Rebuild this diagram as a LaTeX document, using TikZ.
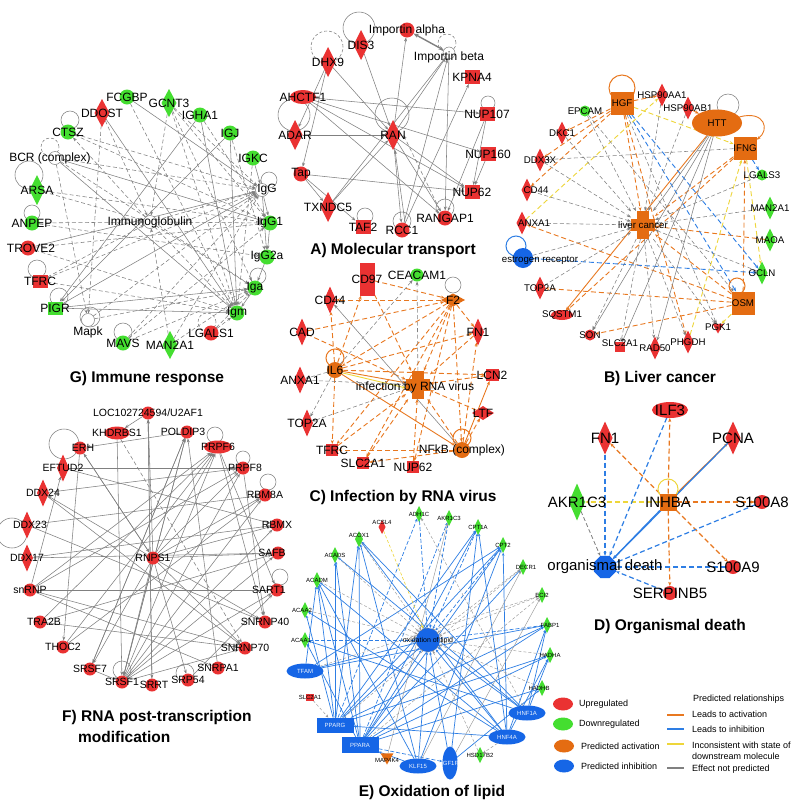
\documentclass[tikz,border=0pt]{standalone}
\usepackage{fontspec}
\setmainfont{Liberation Sans}
\usetikzlibrary{arrows.meta,shapes.geometric}
\definecolor{cR}{RGB}{234,50,50}
\definecolor{cG}{RGB}{68,222,48}
\definecolor{cO}{RGB}{228,108,18}
\definecolor{cB}{RGB}{22,102,230}
\definecolor{eO}{RGB}{232,120,32}
\definecolor{eB}{RGB}{46,126,228}
\definecolor{eY}{RGB}{238,214,58}
\definecolor{eG}{RGB}{128,128,128}
\pgfdeclarelayer{bg}
\pgfsetlayers{bg,main}
\tikzset{
 base/.style={inner sep=0pt,outer sep=0pt},
 fR/.style={fill=cR}, fG/.style={fill=cG}, fO/.style={fill=cO}, fB/.style={fill=cB},
 fW/.style={fill=white,draw=eG,line width=0.5pt},
 ci/.style={base,circle,minimum size=#1},
 di/.style 2 args={base,diamond,minimum width=#1,minimum height=#2},
 sq/.style 2 args={base,rectangle,minimum width=#1,minimum height=#2},
 el/.style 2 args={base,ellipse,minimum width=#1,minimum height=#2},
 triD/.style={base,regular polygon,regular polygon sides=3,shape border rotate=180,minimum size=#1},
 oct/.style={base,regular polygon,regular polygon sides=8,minimum size=#1},
 plusN/.style={base,rectangle,minimum width=24,minimum height=28,path picture={
   \fill[cO] ([xshift=-6pt,yshift=-14pt]path picture bounding box.center) rectangle ([xshift=6pt,yshift=14pt]path picture bounding box.center);
   \fill[cO] ([xshift=-12pt,yshift=-6pt]path picture bounding box.center) rectangle ([xshift=12pt,yshift=6pt]path picture bounding box.center);}},
 lG/.style={inner sep=0pt,font=\fontsize{12}{12}\selectfont},
 lB/.style={inner sep=0pt,font=\fontsize{9.7}{10}\selectfont},
 lF/.style={inner sep=0pt,font=\fontsize{10.5}{11}\selectfont},
 lD/.style={inner sep=0pt,font=\fontsize{15}{15}\selectfont},
 lE/.style={inner sep=0pt,font=\fontsize{6}{6}\selectfont},
 lEw/.style={lE,text=white!92!cB},
 lOL/.style={inner sep=0pt,font=\fontsize{7}{7}\selectfont},
 lL/.style={inner sep=0pt,font=\fontsize{9}{11}\selectfont,align=left},
 tt/.style={inner sep=0pt,font=\bfseries\fontsize{15.5}{17}\selectfont},
 ar/.style={-{Stealth[length=4pt,width=3pt]}},
 gs/.style={draw=eG,line width=0.55pt,ar},
 gd/.style={gs,dash pattern=on 4pt off 2.5pt},
 os/.style={draw=eO,line width=0.9pt,ar},
 od/.style={os,dash pattern=on 5pt off 3pt},
 bs/.style={draw=eB,line width=0.9pt,ar},
 bd/.style={bs,dash pattern=on 5pt off 3pt},
 ys/.style={draw=eY,line width=0.9pt,ar},
 yd/.style={ys,dash pattern=on 5pt off 3pt},
 bE/.style={draw=eB,line width=0.7pt,-{Stealth[length=3pt,width=2.5pt]}},
 bEd/.style={bE,dash pattern=on 4pt off 2pt},
 gE/.style={draw=eG!80,line width=0.45pt,-{Stealth[length=3pt,width=2.5pt]}},
 gEd/.style={gE,dash pattern=on 3pt off 2pt},
 gl/.style={draw=eG,line width=0.55pt},
 gld/.style={gl,dash pattern=on 3pt off 2pt},
 ol/.style={draw=eO,line width=1pt},
 yl/.style={draw=eY,line width=1pt},
 bl/.style={draw=eB,line width=1pt},
}
\newcommand\nn[5]{\node[#1] (#2) at (#3) {}; \node[#4] (#2l) at (#3) {#5};}
\newcommand\lp[5]{\draw[#1] ([xshift=#3pt,yshift=#4pt]#2.center) circle[radius=#5pt];}
\begin{document}
\begin{tikzpicture}[x=1pt,y=-1pt]
\begin{pgfonlayer}{bg}
\fill[white] (0,0) rectangle (800,809);
\end{pgfonlayer}
\useasboundingbox (0,0) rectangle (800,809);

% ---------------- Panel G ----------------
\nn{ci=15,fG}{G1}{127,97}{lG}{FCGBP}
\nn{di={15}{28},fR}{G2}{102,113}{lG}{DDOST}
\nn{di={15}{28},fG}{G3}{169,103}{lG}{GCNT3}
\nn{ci=15,fG}{G4}{200,115}{lG}{IGHA1}
\nn{ci=15,fG}{G5}{68,132}{lG}{CTSZ}
\nn{ci=15,fG}{G6}{230,133}{lG}{IGJ}
\nn{ci=13,fW}{G7}{55,158}{lG,xshift=-5pt}{BCR (complex)}
\nn{ci=15,fG}{G8}{253,158}{lG}{IGKC}
\nn{di={15}{30},fG}{G9}{37,190}{lG}{ARSA}
\nn{ci=13,fW}{G10}{262,190}{lG,xshift=5pt}{IgG}
\nn{ci=15,fG}{G11}{32,223}{lG}{ANPEP}
\nn{ci=13,fW}{G12}{150,222}{lG}{Immunoglobulin}
\nn{ci=15,fG}{G13}{270,223}{lG}{IgG1}
\nn{ci=15,fR}{G14}{28,248}{lG,xshift=3pt}{TROVE2}
\nn{ci=15,fG}{G15}{267,257}{lG}{IgG2a}
\nn{sq={15}{13},fR}{G16}{40,281}{lG}{TFRC}
\nn{ci=15,fG}{G17}{255,288}{lG}{Iga}
\nn{sq={15}{13},fG}{G18}{55,308}{lG}{PIGR}
\nn{ci=15,fG}{G19}{237,313}{lG}{Igm}
\nn{ci=13,fW}{G20}{88,320}{lG,yshift=-12pt}{Mapk}
\nn{ci=15,fG}{G21}{123,343}{lG}{MAVS}
\nn{di={15}{28},fG}{G22}{170,345}{lG}{MAN2A1}
\nn{ci=15,fR}{G23}{211,333}{lG}{LGALS1}
\node[tt] (T7) at (147,378) {G) Immune response};

% ---------------- Panel A ----------------
\nn{ci=15,fR}{A1}{407,30}{lG}{Importin alpha}
\nn{di={15}{30},fR}{A2}{361,45}{lG}{DIS3}
\nn{ci=12,fW}{A3}{449,53}{lG,yshift=-4pt}{Importin beta}
\nn{di={15}{30},fR}{A4}{328,62}{lG}{DHX9}
\nn{sq={15}{14},fR}{A5}{472,77}{lG}{KPNA4}
\nn{el={26}{14},fR}{A6}{303,97}{lG}{AHCTF1}
\nn{sq={15}{14},fR}{A7}{487,114}{lG}{NUP107}
\nn{di={15}{30},fR}{A8}{295,135}{lG}{ADAR}
\nn{di={15}{30},fR}{A9}{393,135}{lG}{RAN}
\nn{sq={15}{14},fR}{A10}{488,154}{lG}{NUP160}
\nn{ci=15,fR}{A11}{301,174}{lG}{Tap}
\nn{sq={15}{14},fR}{A12}{472,192}{lG}{NUP62}
\nn{di={15}{30},fR}{A13}{328,207}{lG}{TXNDC5}
\nn{ci=15,fR}{A14}{445,218}{lG}{RANGAP1}
\nn{sq={15}{14},fR}{A15}{363,227}{lG}{TAF2}
\nn{ci=15,fR}{A16}{402,230}{lG}{RCC1}
\node[tt] (T1) at (393,250) {A) Molecular transport};

% ---------------- Panel B ----------------
\nn{sq={23}{23},fO}{B1}{622,103}{lB}{HGF}
\nn{di={11}{23},fR}{B2}{662,95}{lB}{HSP90AA1}
\nn{ci=11,fG}{B3}{585,111}{lB}{EPCAM}
\nn{di={11}{23},fR}{B4}{688,108}{lB}{HSP90AB1}
\nn{el={50}{27},fO}{B5}{717,123}{lB}{HTT}
\nn{di={11}{23},fR}{B6}{562,133}{lB}{DKC1}
\nn{sq={23}{23},fO}{B7}{745,148}{lB}{IFNG}
\nn{di={11}{23},fR}{B8}{540,160}{lB}{DDX3X}
\nn{ci=11,fG}{B9}{762,175}{lB}{LGALS3}
\nn{di={11}{23},fR}{B10}{527,190}{lB,xshift=9pt}{CD44}
\nn{di={11}{23},fG}{B11}{770,208}{lB}{MAN2A1}
\nn{plusN}{B12}{643,225}{lB}{liver cancer}
\nn{di={11}{23},fR}{B13}{522,223}{lB,xshift=12pt}{ANXA1}
\nn{di={11}{23},fG}{B14}{770,240}{lB}{MAOA}
\nn{ci=20,fB}{B15}{523,258}{lB,xshift=17pt,yshift=-2pt}{estrogen receptor}
\nn{di={11}{23},fG}{B16}{762,273}{lB}{OCLN}
\nn{di={11}{23},fR}{B17}{540,288}{lB}{TOP2A}
\nn{sq={23}{23},fO}{B18}{743,303}{lB}{OSM}
\nn{el={22}{10},fR}{B19}{562,315}{lB}{SQSTM1}
\nn{triD=13,fR}{B20}{718,327}{lB}{PGK1}
\nn{ci=11,fR}{B21}{590,335}{lB}{SON}
\nn{sq={10}{10},fR}{B22}{620,347}{lB,yshift=4pt}{SLC2A1}
\nn{di={11}{23},fR}{B23}{655,348}{lB}{RAD50}
\nn{di={11}{23},fR}{B24}{688,342}{lB}{PHGDH}
\node[tt] (T2) at (660,378) {B) Liver cancer};

% ---------------- Panel C ----------------
\nn{sq={15}{33},fR}{C1}{367,279}{lG}{CD97}
\nn{ci=13,fG}{C2}{417,275}{lG}{CEACAM1}
\nn{di={24}{13},fO}{C3}{453,300}{lG}{F2}
\nn{di={12}{27},fR}{C4}{330,300}{lG}{CD44}
\nn{di={12}{27},fR}{C5}{302,332}{lG}{CAD}
\nn{di={12}{27},fR}{C6}{478,332}{lG}{FN1}
\nn{ci=16,fO}{C7}{335,370}{lG}{IL6}
\nn{sq={13}{12},fR}{C8}{492,375}{lG}{LCN2}
\nn{di={12}{27},fR}{C9}{300,380}{lG}{ANXA1}
\nn{plusN}{C10}{418,385}{lG,xshift=-3pt,yshift=-2pt}{infection by RNA virus}
\nn{di={22}{14},fR}{C11}{483,413}{lG}{LTF}
\nn{di={12}{27},fR}{C12}{307,423}{lG}{TOP2A}
\nn{sq={12}{12},fR}{C13}{332,450}{lG}{TFRC}
\nn{ci=16,fO}{C14}{462,450}{lG}{NFkB (complex)}
\nn{sq={12}{12},fR}{C15}{363,463}{lG}{SLC2A1}
\nn{sq={12}{12},fR}{C16}{413,467}{lG}{NUP62}
\node[tt] (T3) at (403,497) {C) Infection by RNA virus};

% ---------------- Panel F ----------------
\nn{ci=13,fR}{F1}{148,413}{lF}{LOC102724594/U2AF1}
\nn{el={25}{13},fR}{F2}{117,433}{lF}{KHDRBS1}
\nn{ci=13,fR}{F3}{187,432}{lF,xshift=-4pt}{POLDIP3}
\nn{ci=13,fR}{F4}{80,448}{lF,xshift=3pt}{ERH}
\nn{el={28}{13},fR}{F5}{218,447}{lF}{PRPF6}
\nn{di={12}{27},fR}{F6}{63,468}{lF}{EFTUD2}
\nn{ci=13,fR}{F7}{243,468}{lF,xshift=2pt}{PRPF8}
\nn{di={12}{27},fR}{F8}{43,493}{lF}{DDX24}
\nn{ci=13,fR}{F9}{265,495}{lF}{RBM8A}
\nn{di={12}{27},fR}{F10}{27,525}{lF,xshift=3pt}{DDX23}
\nn{ci=13,fR}{F11}{277,525}{lF}{RBMX}
\nn{di={12}{27},fR}{F12}{27,558}{lF}{DDX17}
\nn{ci=13,fR}{F13}{153,558}{lF}{RNPS1}
\nn{ci=13,fR}{F14}{278,553}{lF,xshift=-6pt}{SAFB}
\nn{ci=13,fR}{F15}{30,590}{lF}{snRNP}
\nn{ci=13,fR}{F16}{277,590}{lF,xshift=-8pt}{SART1}
\nn{ci=13,fR}{F17}{40,622}{lF,xshift=4pt}{TRA2B}
\nn{ci=13,fR}{F18}{265,622}{lF}{SNRNP40}
\nn{ci=13,fR}{F19}{63,647}{lF}{THOC2}
\nn{ci=13,fR}{F20}{245,648}{lF}{SNRNP70}
\nn{ci=13,fR}{F21}{90,669}{lF}{SRSF7}
\nn{ci=13,fR}{F22}{218,668}{lF}{SNRPA1}
\nn{ci=13,fR}{F23}{122,682}{lF}{SRSF1}
\nn{ci=13,fR}{F24}{152,685}{lF,xshift=2pt}{SRRT}
\nn{ci=13,fR}{F25}{188,680}{lF}{SRP54}
\node[tt,anchor=west] (T6) at (62,717) {F) RNA post-transcription};
\node[tt,anchor=west] (T6b) at (78,737) {modification};

% ---------------- Panel D ----------------
\nn{el={36}{16},fR}{D1}{670,410}{lD}{ILF3}
\nn{di={15}{33},fR}{D2}{605,438}{lD}{FN1}
\nn{di={15}{33},fR}{D3}{733,438}{lD}{PCNA}
\nn{di={16}{37},fG}{D4}{577,502}{lD}{AKR1C3}
\nn{sq={17}{17},fO}{D5}{668,502}{lD}{INHBA}
\nn{ci=14,fR}{D6}{762,502}{lD}{S100A8}
\nn{oct=24,fB}{D7}{605,567}{lD}{organismal death}
\nn{ci=14,fR}{D8}{733,567}{lD}{S100A9}
\nn{ci=14,fR}{D9}{670,593}{lD}{SERPINB5}
\node[tt] (T4) at (670,627) {D) Organismal death};

% ---------------- Panel E ----------------
\nn{di={7}{14},fR}{E1}{382,527}{lE,yshift=5pt}{ACSL4}
\nn{di={8}{16},fG}{E2}{419,514}{lE}{ADH1C}
\nn{di={8}{16},fG}{E3}{449,518}{lE}{AKR1C3}
\nn{di={8}{16},fG}{E4}{478,527}{lE}{CPT1A}
\nn{di={8}{16},fG}{E5}{359,539}{lE,yshift=4pt}{ACOX1}
\nn{di={8}{16},fG}{E6}{335,555}{lE}{ACADS}
\nn{di={8}{16},fG}{E7}{503,545}{lE}{CPT2}
\nn{di={8}{16},fG}{E8}{523,567}{lE,xshift=3pt}{DECR1}
\nn{di={8}{16},fG}{E9}{317,580}{lE}{ACADM}
\nn{di={8}{16},fG}{E10}{542,595}{lE}{ECI2}
\nn{di={8}{16},fG}{E11}{305,610}{lE,xshift=-3pt}{ACAA2}
\nn{di={8}{16},fG}{E12}{547,625}{lE,xshift=3pt}{FABP1}
\node[ci=24,fB,draw=eG,dashed,line width=0.5pt] (E13) at (428,640) {};
\node[lOL] (E13l) at (428,641) {oxidation of lipid};
\nn{di={8}{16},fG}{E14}{305,640}{lE,xshift=-4pt}{ACAA1}
\nn{di={8}{16},fG}{E15}{550,655}{lE}{HADHA}
\nn{el={37}{15},fB}{E16}{305,671}{lEw}{TFAM}
\nn{di={8}{16},fG}{E17}{542,688}{lE,xshift=-3pt}{HADHB}
\nn{sq={8}{7},fR}{E18}{310,697}{lE}{SLC2A1}
\nn{el={37}{15},fB}{E19}{527,713}{lEw}{HNF1A}
\nn{sq={37}{15},fB}{E20}{335,725}{lEw}{PPARG}
\nn{el={37}{15},fB}{E21}{507,737}{lEw}{HNF4A}
\nn{sq={37}{16},fB}{E22}{360,745}{lEw}{PPARA}
\nn{di={8}{16},fG}{E23}{480,755}{lE}{HSD17B2}
\nn{triD=15,fO}{E24}{387,757}{lE,yshift=-3pt}{MAP4K4}
\nn{el={37}{15},fB}{E25}{418,766}{lEw}{KLF15}
\nn{el={15}{33},fB}{E26}{450,763}{lEw}{IGF1R}
\node[tt] (T5) at (432,792) {E) Oxidation of lipid};

% ---------------- Legend ----------------
\node[el={20}{13},fR] (L1) at (563,704) {};
\node[lL,anchor=west] (L1t) at (579,704) {Upregulated};
\node[el={20}{13},fG] (L2) at (563,724) {};
\node[lL,anchor=west] (L2t) at (579,724) {Downregulated};
\node[el={20}{13},fO] (L3) at (564,746) {};
\node[lL,anchor=west] (L3t) at (581,746) {Predicted activation};
\node[el={20}{13},fB] (L4) at (564,766) {};
\node[lL,anchor=west] (L4t) at (581,766) {Predicted inhibition};
\node[lL,anchor=west] (L5) at (693,699) {Predicted relationships};
\coordinate (La1) at (667,715); \coordinate (Lb1) at (684,715);
\coordinate (La2) at (667,729); \coordinate (Lb2) at (684,729);
\coordinate (La3) at (667,744); \coordinate (Lb3) at (684,744);
\coordinate (La4) at (667,768); \coordinate (Lb4) at (684,768);
\draw[eO,line width=1.8pt] (La1) -- (Lb1);
\draw[eB,line width=1.8pt] (La2) -- (Lb2);
\draw[eY,line width=1.8pt] (La3) -- (Lb3);
\draw[eG,line width=1.8pt] (La4) -- (Lb4);
\node[lL,anchor=west] (L6) at (692,714) {Leads to activation};
\node[lL,anchor=west] (L7) at (692,729) {Leads to inhibition};
\node[lL,anchor=west] (L8) at (692,750.5) {Inconsistent with state of\\downstream molecule};
\node[lL,anchor=west] (L9) at (692,769) {Effect not predicted};

% ================= EDGES =================
\begin{pgfonlayer}{bg}
% Panel G
\foreach \a/\b in {G1/G10,G2/G19,G4/G18,G6/G18,G4/G19,G7/G13,G7/G19,G14/G10,G18/G17,G18/G19,G10/G13,G10/G15,G8/G10,G13/G15,G15/G17,G17/G19,G6/G19,G18/G10}
  \draw[gs] (\a) -- (\b);
\foreach \a/\b in {G3/G12,G3/G19,G3/G17,G3/G10,G3/G13,G2/G20,G7/G20,G12/G5,G9/G12,G11/G12,G12/G10,G16/G10,G21/G10,G21/G17,G21/G13,G20/G10,G20/G17,G23/G17,G23/G19,G22/G10,G12/G19,G12/G13,G5/G10,G7/G10,G14/G13,G1/G19,G4/G13,G8/G19,G6/G15,G16/G12,G22/G12,G12/G17,G7/G17,G11/G15,G9/G13,G14/G19,G16/G19,G22/G17,G5/G13,G2/G12}
  \draw[gd] (\a) -- (\b);
\lp{gl}{G5}{2}{12}{9}
\lp{gld}{G7}{-5}{11}{9}
\lp{gl}{G9}{-8}{15}{14}
\lp{gl}{G11}{0}{10}{8}
\lp{gl}{G16}{-3}{12}{9}
\lp{gl}{G18}{4}{11}{9}
\lp{gl}{G20}{2}{3}{10}
\lp{gl}{G21}{0}{11}{9}
\lp{gld}{G23}{-4}{11}{9}
\lp{gl}{G10}{7}{10}{8}
\lp{gl}{G17}{3}{12}{8}

% Panel A
\foreach \a/\b in {A2/A9,A4/A9,A4/A11,A4/A8,A6/A7,A6/A10,A6/A12,A6/A14,A8/A9,A11/A12,A11/A15,A13/A9,A9/A1,A9/A3,A13/A3,A16/A5,A9/A16,A9/A14,A9/A12,A3/A14,A7/A12,A10/A12,A7/A14,A11/A13,A16/A3}
  \draw[gs] (\a) -- (\b);
\draw[gs] ([xshift=3pt]A16.north) -- ([xshift=2pt]A9.south);
\draw[gd] ([yshift=3pt]A14.north west) -- ([xshift=3pt]A9.east);
\draw[draw=eG,line width=1.4pt,{Stealth[length=5pt,width=4pt]}-{Stealth[length=5pt,width=4pt]}] (A1) -- (A3);
\lp{gl}{A2}{-2}{17}{16}
\lp{gld}{A4}{-1}{15}{16}
\lp{gld}{A3}{-2}{10}{9}
\lp{gl}{A8}{-1}{20}{16}
\lp{gl}{A9}{-1}{20}{17}
\lp{gl}{A7}{1}{11}{7}
\lp{gl}{A14}{0}{10}{9}
\lp{gl}{A15}{2}{11}{8}
\lp{gl}{A16}{0}{9}{9}

% Panel B
\foreach \a/\b in {B1/B6,B1/B8,B1/B10,B1/B12,B1/B2,B4/B5,B18/B17,B18/B13,B18/B12,B18/B21,B18/B7,B7/B12,B14/B12,B7/B19,B1/B24}
  \draw[od] (\a) -- (\b);
\draw[os] (B5) -- (B19);
\draw[os] (B5) .. controls (765,110) and (770,130) .. (B7);
\foreach \a/\b in {B1/B18,B1/B16,B15/B16,B7/B9}
  \draw[bd] (\a) -- (\b);
\foreach \a/\b in {B1/B7,B13/B2,B24/B7,B7/B16,B18/B20}
  \draw[yd] (\a) -- (\b);
\foreach \a/\b in {B3/B12,B6/B12,B8/B12,B10/B12,B13/B12,B15/B12,B12/B22,B12/B23,B12/B24,B12/B20,B11/B12,B9/B12,B7/B8,B1/B20,B12/B21,B17/B12,B2/B12,B4/B12,B16/B12,B3/B18}
  \draw[gd] (\a) -- (\b);
\foreach \a/\b in {B5/B22,B5/B23,B5/B21,B5/B12}
  \draw[gs] (\a) -- (\b);
\lp{ol}{B1}{0}{15}{13}
\lp{gl}{B5}{11}{18}{11}
\lp{ol}{B18}{-6}{17}{8}
\lp{bl}{B15}{-7}{12}{10}

% Panel C
\foreach \a/\b in {C7/C4,C7/C1,C7/C13,C7/C6,C7/C8,C3/C4,C3/C6,C3/C10,C3/C14,C3/C16,C3/C13,C1/C10,C5/C10,C5/C3,C14/C6,C14/C10,C14/C15,C14/C13,C16/C10,C15/C10,C13/C10,C11/C10,C8/C10,C6/C10,C3/C7,C3/C15,C14/C11,C1/C3}
  \draw[od] (\a) -- (\b);
\foreach \a/\b in {C7/C14,C14/C8,C7/C10}
  \draw[os] (\a) -- (\b);
\draw[ys] ([yshift=-3pt]C7.east) -- ([yshift=-3pt]C10.west);
\foreach \a/\b in {C7/C12,C7/C9,C7/C2,C10/C12,C9/C10,C10/C2}
  \draw[gd] (\a) -- (\b);
\draw[gs] (C14) -- (C4);
\lp{gl}{C3}{0}{15}{8}
\lp{ol}{C7}{0}{12}{9}
\lp{ol}{C14}{0}{12}{9}

% Panel F
\foreach \a/\b in {F1/F24,F1/F2,F2/F23,F3/F4,F3/F23,F3/F21,F4/F13,F4/F19,F6/F7,F15/F6,F15/F5,F15/F7,F15/F16,F12/F14,F8/F20,F10/F9,F10/F18,F13/F5,F13/F7,F13/F9,F13/F11,F13/F14,F13/F18,F13/F20,F13/F23,F13/F21,F13/F25,F13/F1,F13/F4,F13/F8,F21/F23,F23/F5,F23/F7,F23/F3,F23/F20,F23/F11,F23/F14,F23/F16,F23/F9,F17/F5,F17/F20,F15/F20,F15/F22,F19/F5,F5/F18,F5/F16,F7/F18,F12/F11,F17/F14,F19/F9,F21/F3,F24/F1,F22/F3,F25/F16,F6/F11,F8/F7}
  \draw[gs] (\a) -- (\b);
\draw[gd] (F2) -- (F20);
\lp{gl}{F4}{-16}{4}{15}
\lp{gl}{F10}{-15}{-8}{15}
\lp{gl}{F5}{-3}{12}{8}
\lp{gl}{F7}{0}{10}{7}
\lp{gl}{F9}{3}{13}{8}
\lp{gl}{F16}{3}{13}{8}
\lp{gl}{F23}{0}{12}{9}
\lp{gl}{F25}{-3}{7}{9}

% Panel D
\tikzset{odD/.style={od,line width=1.2pt},osD/.style={os,line width=1.2pt},bdD/.style={bd,line width=1.2pt},bsD/.style={bs,line width=1.2pt}}
\foreach \a/\b in {D5/D2,D5/D1,D5/D6,D5/D8,D5/D9}
  \draw[odD] (\a) -- (\b);
\draw[osD] (D5) -- (D3);
\draw[yd,line width=1.2pt] (D5) -- (D4);
\draw[gd,line width=0.8pt] (D4) -- (D7);
\foreach \a/\b in {D2/D7,D1/D7,D6/D7,D8/D7,D9/D7}
  \draw[bdD] (\a) -- (\b);
\foreach \a/\b in {D5/D7,D3/D7}
  \draw[bsD] (\a) -- (\b);
\lp{yl}{D5}{0}{13}{10}

% Panel E
\foreach \a/\b in {E20/E5,E20/E6,E20/E9,E20/E11,E20/E4,E20/E7,E20/E12,E20/E15,E20/E13,E22/E5,E22/E6,E22/E9,E22/E14,E22/E4,E22/E7,E22/E12,E22/E15,E22/E17,E22/E13,E22/E8,E16/E7,E16/E9,E16/E13,E21/E9,E21/E5,E21/E4,E21/E15,E21/E12,E21/E13,E21/E7,E21/E11,E25/E5,E25/E9,E25/E7,E25/E13,E26/E4,E26/E13,E26/E17,E19/E12,E19/E5,E19/E13,E19/E15,E19/E6,E21/E20,E25/E22,E19/E14,E16/E12}
  \draw[bE] (\a) -- (\b);
\foreach \a/\b in {E14/E13,E12/E13,E4/E13,E2/E13,E3/E13,E7/E13,E22/E26,E20/E2,E22/E3}
  \draw[bEd] (\a) -- (\b);
\foreach \a/\b in {E6/E13,E9/E13,E11/E13,E8/E13,E10/E13,E15/E13,E17/E13,E23/E13,E20/E8,E22/E10,E21/E23,E19/E2,E18/E20,E5/E13,E16/E10}
  \draw[gEd] (\a) -- (\b);
\foreach \a/\b in {E26/E10,E25/E8,E24/E3}
  \draw[gE] (\a) -- (\b);
\draw[ys,dash pattern=on 3pt off 2pt,line width=0.6pt] (E1) -- (E13);
\end{pgfonlayer}
\end{tikzpicture}
\end{document}
